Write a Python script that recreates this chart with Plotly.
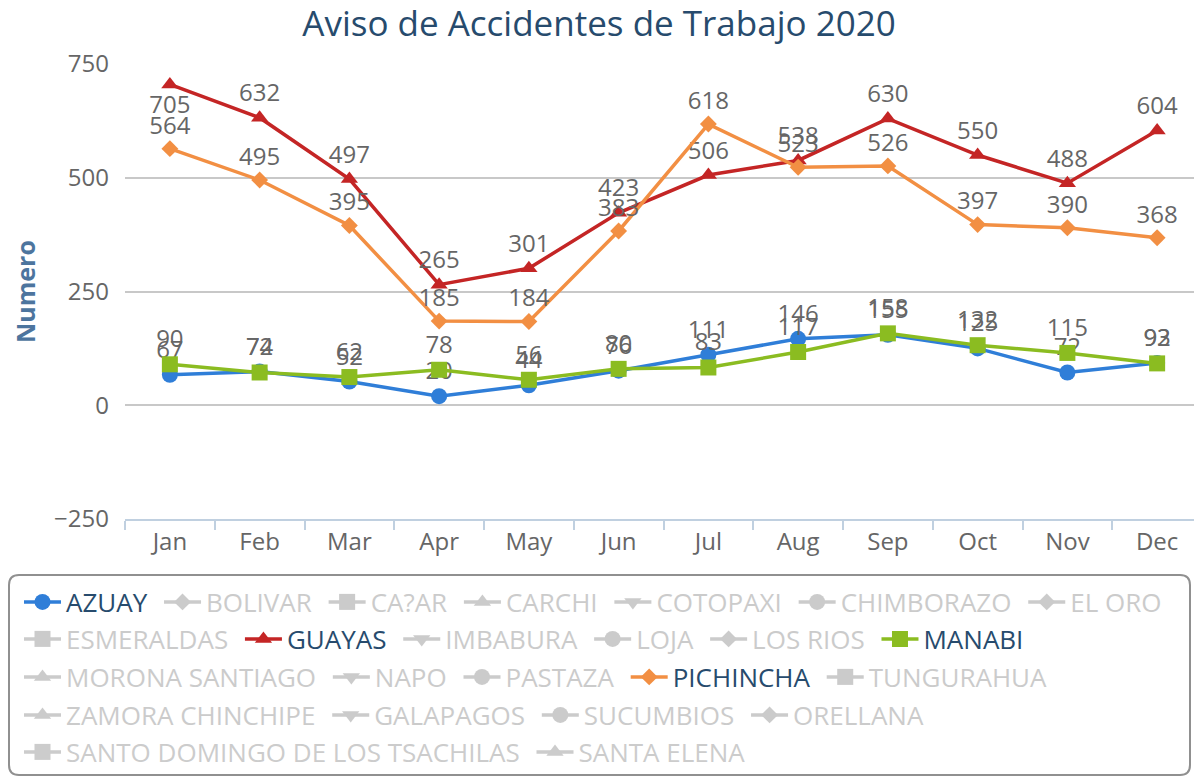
import plotly.graph_objects as go

# ---------------- data ----------------
months = ["Jan", "Feb", "Mar", "Apr", "May", "Jun", "Jul", "Aug", "Sep", "Oct", "Nov", "Dec"]

azuay = [67, 74, 52, 20, 44, 76, 111, 146, 155, 125, 72, 93]
guayas = [705, 632, 497, 265, 301, 423, 506, 538, 630, 550, 488, 604]
manabi = [90, 72, 62, 78, 56, 80, 83, 117, 158, 132, 115, 92]
pichincha = [564, 495, 395, 185, 184, 383, 618, 523, 526, 397, 390, 368]

provinces = ["AZUAY", "BOLIVAR", "CA?AR", "CARCHI", "COTOPAXI", "CHIMBORAZO", "EL ORO",
             "ESMERALDAS", "GUAYAS", "IMBABURA", "LOJA", "LOS RIOS", "MANABI",
             "MORONA SANTIAGO", "NAPO", "PASTAZA", "PICHINCHA", "TUNGURAHUA",
             "ZAMORA CHINCHIPE", "GALAPAGOS", "SUCUMBIOS", "ORELLANA",
             "SANTO DOMINGO DE LOS TSACHILAS", "SANTA ELENA"]
legend_row_sizes = [7, 6, 5, 4, 2]

series_values = {"AZUAY": azuay, "GUAYAS": guayas, "MANABI": manabi, "PICHINCHA": pichincha}
series_colors = {"AZUAY": "#2f7ed8", "GUAYAS": "#c42525", "MANABI": "#8bbc21", "PICHINCHA": "#f28f43"}

y_ticks = [-250, 0, 250, 500, 750]

# ---------------- style ----------------
FONT = "Open Sans"
symbol_cycle = ["circle", "diamond", "square", "triangle-up", "triangle-down"]
symbol_size = {"circle": 16, "diamond": 13, "square": 16, "triangle-up": 15, "triangle-down": 15}
HIDDEN = "#999999"
PAD = "&nbsp;"

# page body has an 8px margin: the figure is drawn 8px smaller and offset
OFF = 8
W, H = 1202 - OFF, 781 - OFF
L, R, T, B = 125 - OFF, 0, 64 - OFF, 262
PW, PH = W - L - R, H - T - B


def px(X):
    return (X - L) / PW


def py(Y):
    return (H - B - Y) / PH


fig = go.Figure()

row_of = []
for r, n in enumerate(legend_row_sizes):
    row_of += [r] * n

for i, name in enumerate(provinces):
    sym = symbol_cycle[i % 5]
    legend_id = "legend" if row_of[i] == 0 else f"legend{row_of[i] + 1}"
    if name in series_values:
        vals = series_values[name]
        pos = ["bottom center" if v > 690 else "top center" for v in vals]
        fig.add_trace(go.Scatter(
            x=months, y=vals, name=name + PAD, mode="lines+markers+text",
            text=[str(v) for v in vals], textposition=pos,
            textfont=dict(family=FONT, size=24, color="#666666"),
            line=dict(color=series_colors[name], width=3.5),
            marker=dict(symbol=sym, size=symbol_size[sym], color=series_colors[name]),
            legend=legend_id, cliponaxis=False, hoverinfo="x+y+name",
        ))
    else:
        fig.add_trace(go.Scatter(
            x=months, y=[None] * len(months),
            name=f'<span style="color:{HIDDEN}">{name}</span>{PAD}',
            mode="lines+markers", visible="legendonly",
            line=dict(color=HIDDEN, width=3.5),
            marker=dict(symbol=sym, size=symbol_size[sym], color=HIDDEN),
            legend=legend_id,
        ))

row_centers = [602 - OFF, 639 - OFF, 677 - OFF, 715 - OFF, 752 - OFF]
legend_common = dict(orientation="h", xref="paper", yref="paper",
                     x=px(19 - OFF), xanchor="left", yanchor="middle",
                     bgcolor="rgba(0,0,0,0)", borderwidth=0, itemwidth=37,
                     font=dict(family=FONT, size=26, color="#274b6d"))
legends = {}
for r, yc in enumerate(row_centers):
    key = "legend" if r == 0 else f"legend{r + 1}"
    legends[key] = dict(legend_common, y=py(yc))

# rounded legend box (figure pixel coords)
x0, x1, y0, y1, rad = 1, 1182, 567, 767, 10
path = (f"M{px(x0 + rad)},{py(y0)} L{px(x1 - rad)},{py(y0)} Q{px(x1)},{py(y0)} {px(x1)},{py(y0 + rad)} "
        f"L{px(x1)},{py(y1 - rad)} Q{px(x1)},{py(y1)} {px(x1 - rad)},{py(y1)} "
        f"L{px(x0 + rad)},{py(y1)} Q{px(x0)},{py(y1)} {px(x0)},{py(y1 - rad)} "
        f"L{px(x0)},{py(y0 + rad)} Q{px(x0)},{py(y0)} {px(x0 + rad)},{py(y0)} Z")

fig.update_layout(
    width=W, height=H,
    margin=dict(l=L, r=R, t=T, b=B, autoexpand=False),
    paper_bgcolor="white", plot_bgcolor="white",
    font=dict(family=FONT, color="#666666"),
    title=dict(text="Aviso de Accidentes de Trabajo 2020", xref="container", yref="container",
               x=(599 - OFF) / W, xanchor="center", y=1 - (24 - OFF) / H, yanchor="middle",
               font=dict(family=FONT, size=35, color="#274b6d")),
    xaxis=dict(type="category", categoryorder="array", categoryarray=months,
               range=[-0.5, len(months) - 0.5], showgrid=False, zeroline=False,
               showline=True, linecolor="#c0d0e0", linewidth=2,
               ticks="outside", tickson="boundaries", ticklen=9, tickcolor="#c0d0e0", tickwidth=2,
               tickfont=dict(family=FONT, size=24, color="#666666")),
    yaxis=dict(range=[-250, 750], tickvals=y_ticks, showgrid=True, gridcolor="#c8c8c8", gridwidth=1.5,
               zeroline=False, showline=False, ticks="", ticklabelstandoff=15,
               tickfont=dict(family=FONT, size=24, color="#666666"),
               title=dict(text="<b>Numero</b>", standoff=11,
                          font=dict(family=FONT, size=25, color="#4d759e"))),
    shapes=[dict(type="path", path=path, xref="paper", yref="paper",
                 line=dict(color="#909090", width=2), fillcolor="rgba(0,0,0,0)", layer="below")],
    showlegend=True,
    **legends,
)

fig.write_html("out.html")
